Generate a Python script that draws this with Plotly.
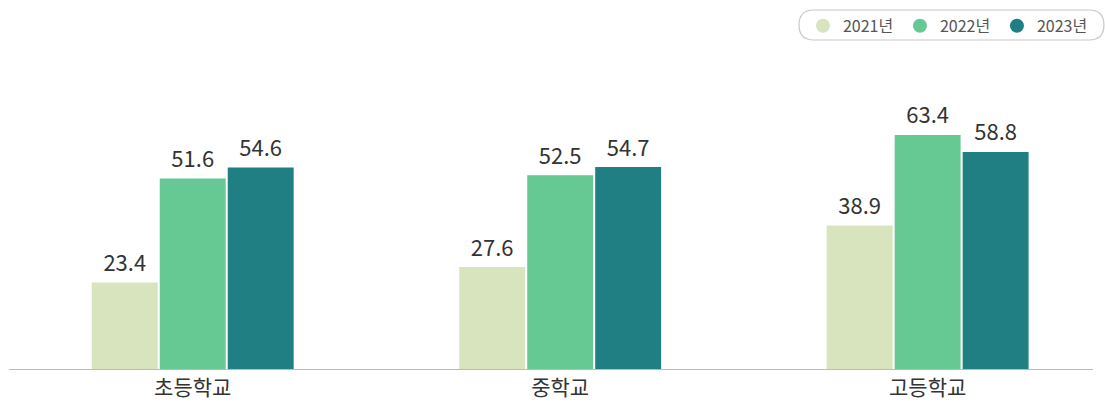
import plotly.graph_objects as go

categories = ["초등학교", "중학교", "고등학교"]
years = ["2021년", "2022년", "2023년"]
v2021 = [23.4, 27.6, 38.9]
v2022 = [51.6, 52.5, 63.4]
v2023 = [54.6, 54.7, 58.8]
colors = ["#d8e4bd", "#66c994", "#1f7f83"]

FONT = "Noto Sans CJK KR"

fig = go.Figure()
for i, (name, vals, col) in enumerate(zip(years, [v2021, v2022, v2023], colors)):
    fig.add_trace(go.Bar(
        x=categories, y=vals, name=name, marker_color=col,
        marker_line_width=0, offsetgroup=str(i),
        showlegend=False, hoverinfo="skip",
    ))
    # value labels, grouped like the bars
    fig.add_trace(go.Scatter(
        x=categories, y=vals, mode="markers+text", offsetgroup=str(i),
        text=[f"{v:.1f}" for v in vals], textposition="top center",
        textfont=dict(size=22, color="#333333", family=FONT),
        marker=dict(size=8, opacity=0), cliponaxis=False,
        showlegend=False, hoverinfo="skip",
    ))
    # legend entry with round marker
    fig.add_trace(go.Scatter(
        x=[None], y=[None], mode="markers", name=name,
        marker=dict(size=14, color=col, symbol="circle"),
        xaxis="x2", yaxis="y2",
    ))

# rounded legend frame (paper coords)
x0, x1, y0, y1 = 0.7288, 1.0101, 1.0647, 1.1618
rx, ry = 0.0138, 0.0485
path = (f"M {x0+rx},{y0} L {x1-rx},{y0} Q {x1},{y0} {x1},{y0+ry} "
        f"L {x1},{y1-ry} Q {x1},{y1} {x1-rx},{y1} L {x0+rx},{y1} "
        f"Q {x0},{y1} {x0},{y1-ry} L {x0},{y0+ry} Q {x0},{y0} {x0+rx},{y0} Z")
fig.add_shape(type="path", path=path, xref="paper", yref="paper",
              line=dict(color="#c8c8c8", width=1.2), fillcolor="white", layer="below")

fig.update_layout(
    width=1105, height=403,
    margin=dict(l=9, r=12, t=60, b=34, autoexpand=False),
    plot_bgcolor="white", paper_bgcolor="white",
    barmode="group", bargap=0.445, bargroupgap=0.03,
    scattermode="group", scattergap=0.445,
    font=dict(family=FONT, color="#333333"),
    legend=dict(
        orientation="h", xref="container", yref="container",
        x=0.99, xanchor="right", y=0.978, yanchor="top",
        font=dict(size=16, color="#555555", family=FONT),
        entrywidth=52, bgcolor="rgba(0,0,0,0)",
    ),
    xaxis=dict(
        range=[-0.5, 2.45], showline=True, linecolor="#bbbbbb", linewidth=1,
        ticks="", showgrid=False, automargin=False,
        tickfont=dict(size=21, color="#333333"),
    ),
    yaxis=dict(range=[0, 83.7], visible=False, showgrid=False, automargin=False),
    xaxis2=dict(overlaying="x", visible=False),
    yaxis2=dict(overlaying="y", visible=False),
)

fig.write_html("out.html", config={"displayModeBar": False},
               post_script="document.body.style.margin='0';")
